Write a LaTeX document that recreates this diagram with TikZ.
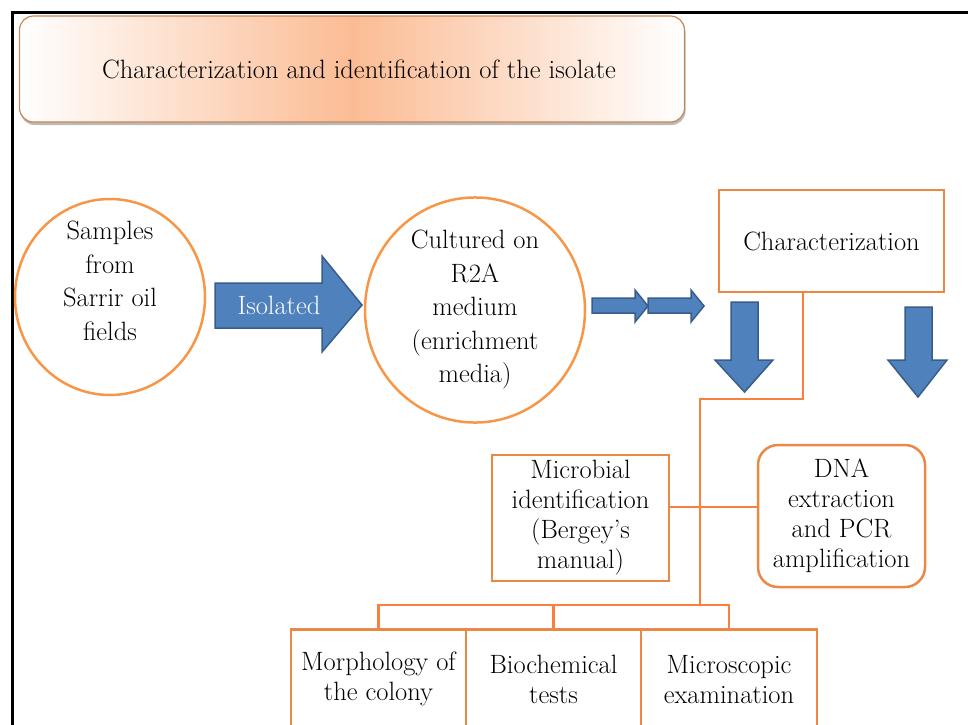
\documentclass[tikz,border=0pt]{standalone}
\usepackage{fontspec}
\usetikzlibrary{shapes.geometric,shadows}
\definecolor{peach}{RGB}{251,188,148}
\definecolor{titleedge}{RGB}{200,135,85}
\definecolor{ringorange}{RGB}{247,150,70}
\definecolor{linkorange}{RGB}{250,128,62}
\definecolor{boxorange}{RGB}{236,136,70}
\definecolor{arrowblue}{RGB}{79,129,189}
\definecolor{arrowedge}{RGB}{56,93,138}
\tikzset{
  bigtext/.style={font=\fontsize{26.5}{33.5}\selectfont,align=center},
  boxtext/.style={font=\fontsize{26.5}{30}\selectfont,align=center},
  ring/.style={ellipse,draw=ringorange,line width=2.5,inner sep=0pt},
  plainbox/.style={rectangle,draw=boxorange,line width=2.5,fill=white,inner sep=0pt},
  blockarrow/.style={fill=arrowblue,draw=arrowedge,line width=1.5,line join=miter},
  link/.style={draw=linkorange,line width=2.5}
}
\begin{document}
\begin{tikzpicture}[x=1pt,y=-1pt]
  \useasboundingbox (0,0) rectangle (968,724);
  \clip (0,0) rectangle (968,724);
  % frame
  \draw[line width=3] (968,12) -- (12,12) -- (12,730);
  % title
  \node[rectangle,rounded corners=14,draw=titleedge,line width=1.2,minimum width=665,minimum height=106,
        left color=white,right color=white,middle color=peach,
        drop shadow={shadow xshift=1pt,shadow yshift=-3pt,fill=black!60,opacity=0.45},
        font=\fontsize{26.5}{30}\selectfont] (title) at (352,69) {\hspace*{14pt}Characterization and identification of the isolate};
  % samples and culture
  \node[ring,minimum width=190,minimum height=196] (samples) at (110,297) {};
  \node[bigtext] (samplestext) at (110,281) {Samples\\from\\Sarrir oil\\fields};
  \node[ring,minimum width=220,minimum height=210,bigtext] (culture) at (475,310) {Cultured on\\R2A\\medium\\(enrichment\\media)};
  % isolated arrow
  \draw[blockarrow] (215,283) -- (322,283) -- (322,256) -- (362,305) -- (322,352) -- (322,328) -- (215,328) -- cycle;
  \node[font=\fontsize{26.5}{30}\selectfont,text=white] (isolated) at (279,305) {Isolated};
  % small arrows
  \foreach \dx in {0,56}
    \draw[blockarrow,xshift=\dx] (592,298) -- (635,298) -- (635,290) -- (648,306) -- (635,322) -- (635,313) -- (592,313) -- cycle;
  % characterization
  \node[plainbox,minimum width=225,minimum height=102,font=\fontsize{26.5}{30}\selectfont] (char) at (831.5,241) {Characterization};
  \draw[blockarrow] (731,302) -- (758,302) -- (758,360) -- (773,360) -- (744.5,392) -- (715,360) -- (731,360) -- cycle;
  \draw[blockarrow] (905,307) -- (932,307) -- (932,360) -- (947,360) -- (918,397) -- (888,360) -- (905,360) -- cycle;
  % identification
  \node[plainbox,minimum width=177,minimum height=126,boxtext] (microbial) at (580.5,518) {Microbial\\identification\\(Bergey's\\manual)};
  \node[plainbox,rounded corners=20,minimum width=167,minimum height=142,boxtext] (dna) at (841.5,516) {DNA\\extraction\\and PCR\\amplification};
  % tests
  \node[plainbox,anchor=north,minimum width=175,minimum height=100,boxtext] (morph) at (378.5,628) {Morphology of\\the colony};
  \node[plainbox,anchor=north,minimum width=175,minimum height=100,boxtext] (bio) at (553.5,628) {Biochemical\\tests};
  \node[plainbox,anchor=north,minimum width=176,minimum height=100,boxtext] (micro) at (729,628) {Microscopic\\examination};
  % connectors
  \coordinate (j1) at (803,399);
  \coordinate (j2) at (700,399);
  \coordinate (j3) at (700,605);
  \coordinate (j4) at (700,507);
  \draw[link] (char.south -| j1) -- (j1) -- (j2) -- (j3);
  \draw[link] (microbial.east |- j4) -- (dna.west |- j4);
  \draw[link] (morph.north) |- (j3) -| (micro.north);
  \draw[link] (bio.north) -- (bio.north |- j3);
\end{tikzpicture}
\end{document}
